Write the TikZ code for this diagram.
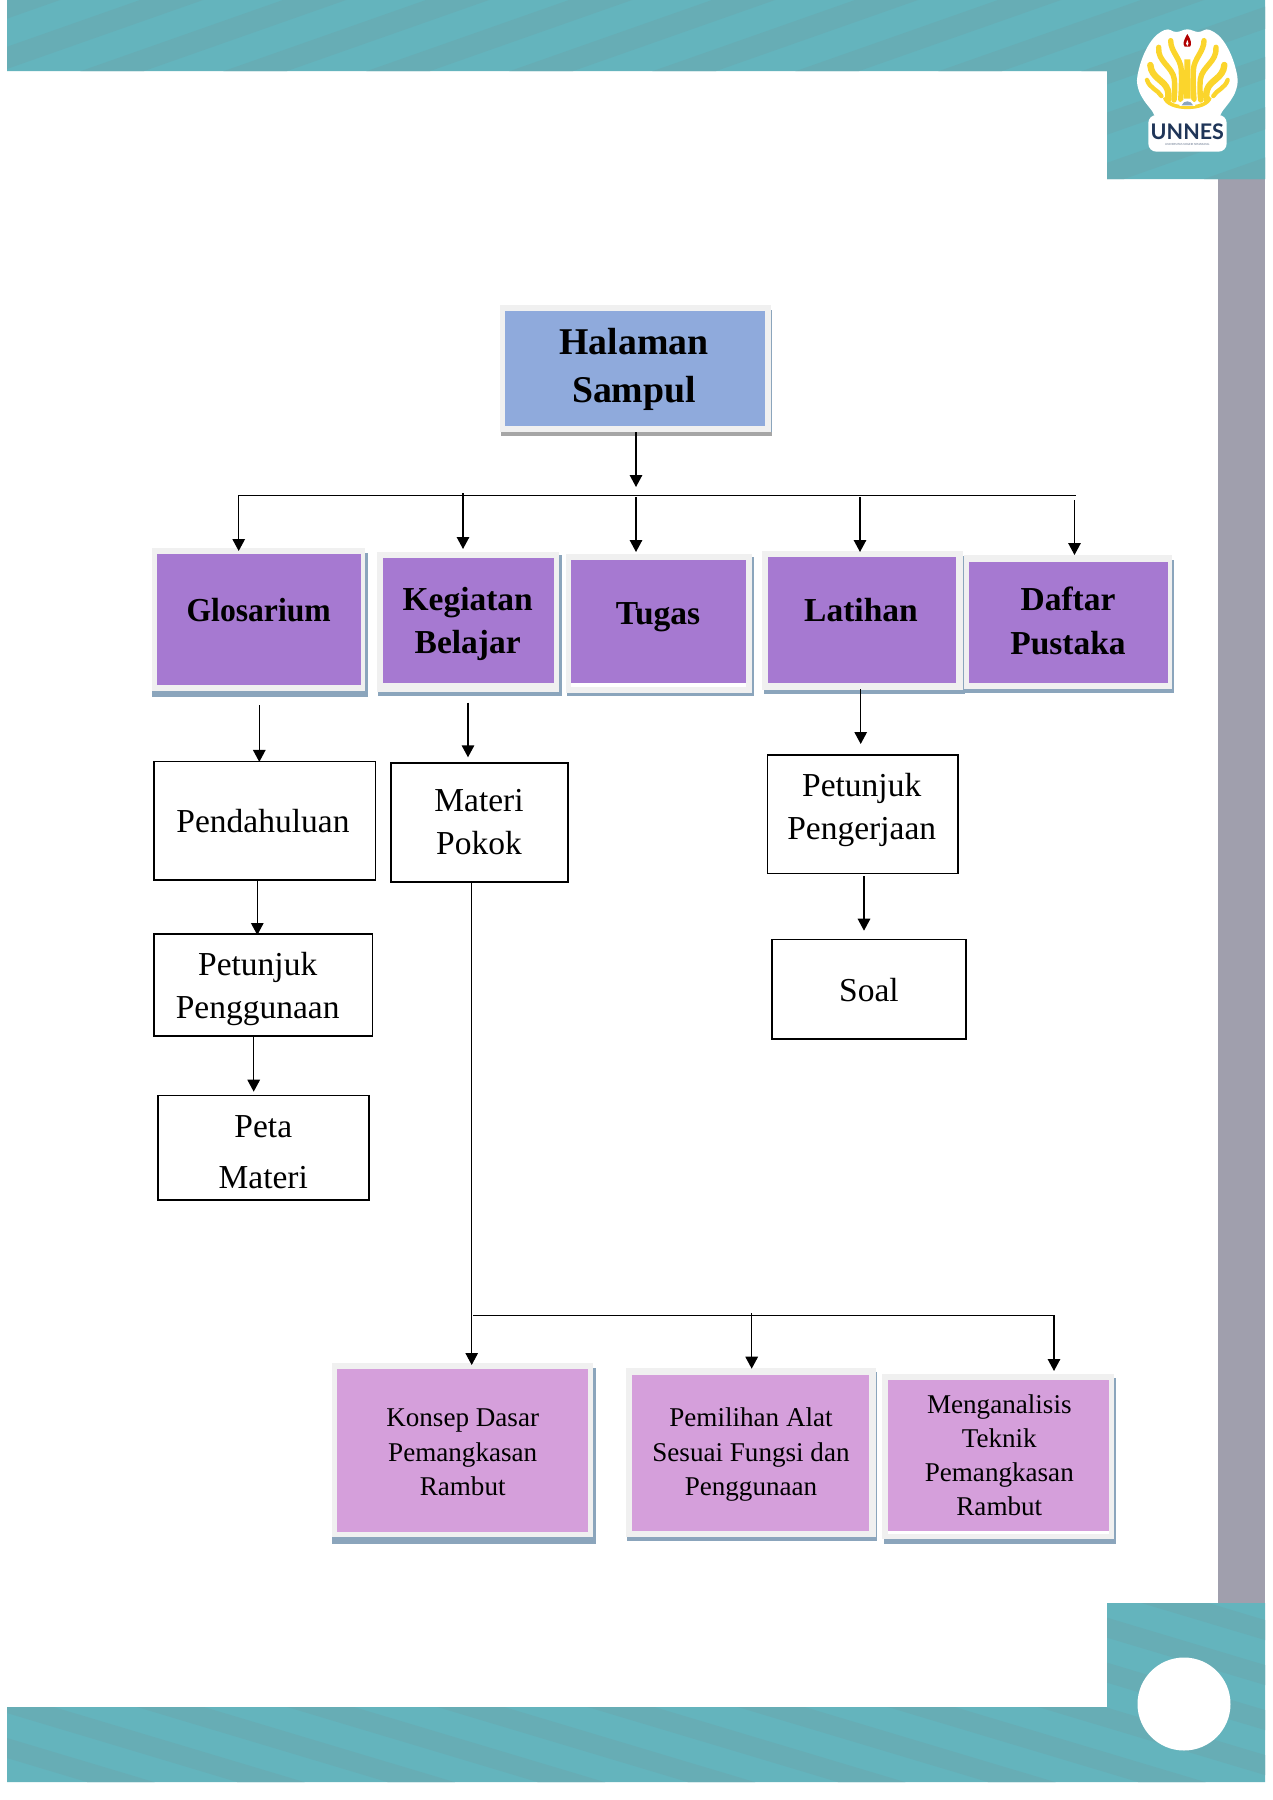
\documentclass[tikz,border=0pt]{standalone}
\usepackage{fontspec}
\setmainfont{Liberation Serif}
\newfontfamily\logofont{Lato}
\usetikzlibrary{arrows.meta}
\definecolor{teal1}{HTML}{64B4BD}
\definecolor{teal2}{HTML}{67ADB5}
\definecolor{greyband}{HTML}{A09FAD}
\definecolor{blueF}{HTML}{8FAADC}
\definecolor{purpleF}{HTML}{A679D1}
\definecolor{pinkF}{HTML}{D59FDB}
\definecolor{rimC}{HTML}{F0F0F0}
\definecolor{shadowC}{HTML}{8BA5BC}
\definecolor{shadowG}{HTML}{A6A6A6}
\definecolor{navyL}{HTML}{1F3558}
\definecolor{yellowL}{HTML}{FBD52C}
\tikzset{
  rimbox/.style={fill=rimC,draw=none,inner sep=0pt,outer sep=0pt,anchor=north west},
  plainbox/.style={draw=black,line width=1.6pt,fill=white,inner sep=0pt,outer sep=0pt,anchor=north west},
  conn/.style={draw=black,line width=1.4pt},
  thin conn/.style={draw=black,line width=1.2pt},
  arr/.style={conn,-{Triangle[width=12.5pt,length=12pt]}},
  lab/.style={anchor=base,align=center,inner sep=0pt},
  boldlab/.style={lab,font={\fontsize{33.5}{43.5}\selectfont\bfseries}},
  bigl/.style={lab,font={\fontsize{37.8}{48}\selectfont\bfseries}},
  midlab/.style={lab,font={\fontsize{33.5}{43}\selectfont}},
  smalllab/.style={lab,font={\fontsize{27.1}{34.3}\selectfont}},
  petal/.style={draw=yellowL,line cap=round,line width=5.4pt},
}
% name, colour, rim l t r b, shadow path, fill path
\newcommand{\panel}[8]{%
  \fill[shadowC] #7;
  \node[rimbox,minimum width={(#5-#3)*1pt},minimum height={(#6-#4)*1pt}] (#1) at (#3,#4) {};
  \fill[#2] #8;
}
\newcommand{\plain}[5]{%
  \node[plainbox,minimum width={(#4-#2)*1pt},minimum height={(#5-#3)*1pt}] (#1) at (#2,#3) {};
}
\newcommand{\logohalf}{%
  \draw[petal] (222,62) .. controls (222,95) and (192,115) .. (190,150) .. controls (189,185) and (190,215) .. (192,238);
  \draw[petal] (258,82) .. controls (262,125) and (216,140) .. (211,178) .. controls (209,200) and (210,222) .. (212,240);
  \draw[petal,line width=6.4pt] (283,135) .. controls (280,175) and (240,180) .. (231,210) .. controls (228,222) and (228,232) .. (230,240);
  \draw[petal,line width=4.4pt] (293,180) .. controls (285,205) and (260,210) .. (250,228);
}
\begin{document}
\begin{tikzpicture}[x=1pt,y=-1pt]
\useasboundingbox (0,0) rectangle (1273,1800);
\fill[white] (0,0) rectangle (1273,1800);
% frame
\fill[greyband] (1218,170) rectangle (1265,1610);
\begin{scope}
  \clip (7,0) -- (1265,0) -- (1265,179) -- (1107,179) -- (1107,71) -- (7,71) -- cycle;
  \fill[teal1] (0,0) rectangle (1273,180);
  \foreach \k in {-2,...,11}{
    \pgfmathsetmacro{\s}{83+143*\k}
    \pgfmathsetmacro{\sa}{\s-309}
    \pgfmathsetmacro{\sb}{\s-246}
    \pgfmathsetmacro{\sc}{\s+263}
    \pgfmathsetmacro{\sd}{\s+200}
    \fill[teal2] (\sa,179) -- (\sb,179) -- (\sc,0) -- (\sd,0) -- cycle;
  }
\end{scope}
\begin{scope}
  \clip (7,1782) -- (1265,1782) -- (1265,1603) -- (1107,1603) -- (1107,1707) -- (7,1707) -- cycle;
  \fill[teal1] (0,1600) rectangle (1273,1790);
  \foreach \k in {-2,...,11}{
    \pgfmathsetmacro{\s}{1618+45*\k}
    \pgfmathsetmacro{\sa}{\s-330}
    \pgfmathsetmacro{\sb}{\s-310}
    \pgfmathsetmacro{\sc}{\s+67}
    \pgfmathsetmacro{\sd}{\s+47}
    \fill[teal2] (7,\sa) -- (7,\sb) -- (1265,\sc) -- (1265,\sd) -- cycle;
  }
\end{scope}
\fill[white] (1184,1704) circle [radius=46.5];
% logo
\begin{scope}[shift={(1130,20)},x=0.3333pt,y=-0.3333pt]
  \fill[white,rounded corners=8pt] (55,285) rectangle (290,395);
  \fill[white] plot[smooth cycle,tension=0.7] coordinates {(172,28) (205,36) (240,30) (285,70) (318,150) (318,210) (280,270) (240,310) (104,310) (64,270) (26,210) (26,150) (59,70) (104,30) (139,36)};
  \logohalf
  \begin{scope}[xshift=114.67pt,xscale=-1]\logohalf\end{scope}
  \fill[yellowL] (163,118) -- (181,118) -- (182,236) -- (162,236) -- cycle;
  \draw[yellowL,line width=3.6pt] (104,232) .. controls (112,272) and (232,272) .. (240,232);
  \fill[white] (148,258) .. controls (153,230) and (191,230) .. (196,258) -- cycle;
  \fill[shadowC] (155,256) .. controls (160,240) and (184,240) .. (189,256) -- cycle;
  \fill[red!70!black] (172,42) .. controls (160,62) and (158,72) .. (164,80) -- (180,80) .. controls (186,72) and (184,62) .. (172,42) -- cycle;
  \fill[white] (172,60) .. controls (167,68) and (167,74) .. (172,78) .. controls (177,74) and (177,68) .. (172,60) -- cycle;
  \node[anchor=base,inner sep=0pt,text=navyL,font={\logofont\bfseries\fontsize{21.5}{22}\selectfont}] (logoname) at (172,358) {UNNES};
  \node[anchor=base,inner sep=0pt,text=navyL!70,font={\logofont\fontsize{2.8}{3}\selectfont}] (logosub) at (172,376) {UNIVERSITAS NEGERI SEMARANG};
\end{scope}
% coloured panels
\panel{halaman}{blueF}{500}{305}{771}{432}{(501,310) rectangle (772,435.7)}{(505,310.7) rectangle (765,426)}
\fill[shadowG] (501,432) rectangle (772,435.7);
\panel{glos}{purpleF}{152}{548}{365}{691}{(152,553) rectangle (368,697)}{(157.3,554.3) rectangle (361,685.3)}
\panel{keg}{purpleF}{376.7}{551.7}{559.3}{691.7}{(378,555) rectangle (561.7,696)}{(382.7,558.3) rectangle (553.7,683.3)}
\panel{tugas}{white}{566}{554}{751.5}{693}{(567,557) rectangle (754,696)}{(571,560) rectangle (745.7,687)}
\fill[purpleF] (571,560) rectangle (745.7,683);
\panel{lat}{purpleF}{762}{551}{963}{690}{(764,556) rectangle (964.5,694)}{(767.6,557) rectangle (956,683)}
\panel{daf}{purpleF}{964}{555}{1172}{689}{(965,560) rectangle (1174,693)}{(969,562) rectangle (1168,683)}
\panel{konsep}{pinkF}{331.7}{1363}{593}{1537}{(332,1368) rectangle (595.7,1544)}{(336.7,1369) rectangle (587.7,1532)}
\panel{pilih}{pinkF}{626}{1367.7}{875.7}{1537}{(627,1372) rectangle (876.7,1541)}{(631.7,1375) rectangle (869,1530.7)}
\panel{analis}{white}{882.3}{1374}{1114}{1539}{(884,1378) rectangle (1116,1544)}{(887.7,1380) rectangle (1109,1534)}
\fill[pinkF] (887.7,1380) rectangle (1109,1531);
% plain boxes
\plain{pend}{153.7}{761.3}{375.3}{879.7}
\plain{petg}{153.7}{934}{372.3}{1035.7}
\plain{peta}{158}{1095.3}{368.7}{1200}
\plain{pokok}{391}{763}{568}{882}
\plain{petj}{767.3}{754.7}{957.7}{873.3}
\plain{soal}{771.7}{939.3}{965.7}{1038.7}
% labels (anchor: baseline of the last line)
\node[bigl] (halamantext) at (634,402) {Halaman\\Sampul};
\node[boldlab] (glostext) at (258.7,621) {\scalebox{0.945}[1]{Glosarium}};
\node[boldlab] (kegtext) at (467.7,653.5) {Kegiatan\\Belajar};
\node[boldlab] (tugastext) at (658,624) {Tugas};
\node[boldlab] (lattext) at (861,621.7) {Latihan};
\node[boldlab] (daftext) at (1068,654.2) {Daftar\\Pustaka};
\node[midlab] (pendtext) at (263,832) {Pendahuluan};
\node[midlab] (petgtext) at (257.7,1018.7) {Petunjuk\\Penggunaan};
\node[midlab,font={\fontsize{33.5}{51}\selectfont}] (petatext) at (263.3,1188.7) {Peta\\Materi};
\node[midlab] (pokoktext) at (479,854.7) {Materi\\Pokok};
\node[midlab] (petjtext) at (861.7,839) {Petunjuk\\Pengerjaan};
\node[midlab] (soaltext) at (869,1001) {Soal};
\node[smalllab] (konseptext) at (462.7,1495.3) {Konsep Dasar\\Pemangkasan\\Rambut};
\node[smalllab] (pilihtext) at (751,1495.3) {Pemilihan Alat\\Sesuai Fungsi dan\\Penggunaan};
\node[smalllab,font={\fontsize{27.1}{34}\selectfont}] (analistext) at (999.3,1515) {Menganalisis\\Teknik\\Pemangkasan\\Rambut};
% connector points
\coordinate (hj) at (636,487);
\coordinate (busL) at (238.7,495.3);
\coordinate (busR) at (1076,495.3);
\coordinate (bK) at (463,493);
\coordinate (bT) at (636,497);
\coordinate (bL) at (860,497);
\coordinate (bD) at (1074.5,500);
\coordinate (gs) at (259.3,705);
\coordinate (ks) at (468,702.7);
\coordinate (ls) at (860.7,689);
\coordinate (pj1) at (257.3,880);
\coordinate (pj2) at (253.7,1036);
\coordinate (pj3) at (864,876);
\coordinate (mj) at (471.7,882);
\coordinate (bus2L) at (473,1315.3);
\coordinate (bus2R) at (1054,1315.3);
\coordinate (b2M) at (751.7,1313);
% connectors
\draw[arr] (hj |- halaman.south) -- (hj);
\draw[thin conn] (busL) -- (busR);
\draw[arr,shorten >=-3pt] (busL) -- (busL |- glos.north);
\draw[arr,shorten >=2.7pt] (bK) -- (bK |- keg.north);
\draw[arr,shorten >=2pt] (bT) -- (bT |- tugas.north);
\draw[arr,shorten >=-1pt] (bL) -- (bL |- lat.north);
\draw[arr] (bD) -- (bD |- daf.north);
\draw[arr,shorten >=-0.6pt] (gs) -- (gs |- pend.north);
\draw[arr,shorten >=5.7pt] (ks) -- (ks |- pokok.north);
\draw[arr,shorten >=10.7pt] (ls) -- (ls |- petj.north);
\draw[arr,shorten >=-1pt] (pj1) -- (pj1 |- petg.north);
\draw[arr,shorten >=3.6pt] (pj2) -- (pj2 |- peta.north);
\draw[arr,shorten >=8.6pt] (pj3) -- (pj3 |- soal.north);
\draw[arr,line width=1.1pt,shorten >=-2pt] (mj) -- (mj |- konsep.north);
\draw[thin conn] (bus2L) -- (bus2R);
\draw[arr,shorten >=-1pt] (b2M) -- (b2M |- pilih.north);
\draw[arr,shorten >=3pt] (bus2R) -- (bus2R |- analis.north);
\end{tikzpicture}
\end{document}
